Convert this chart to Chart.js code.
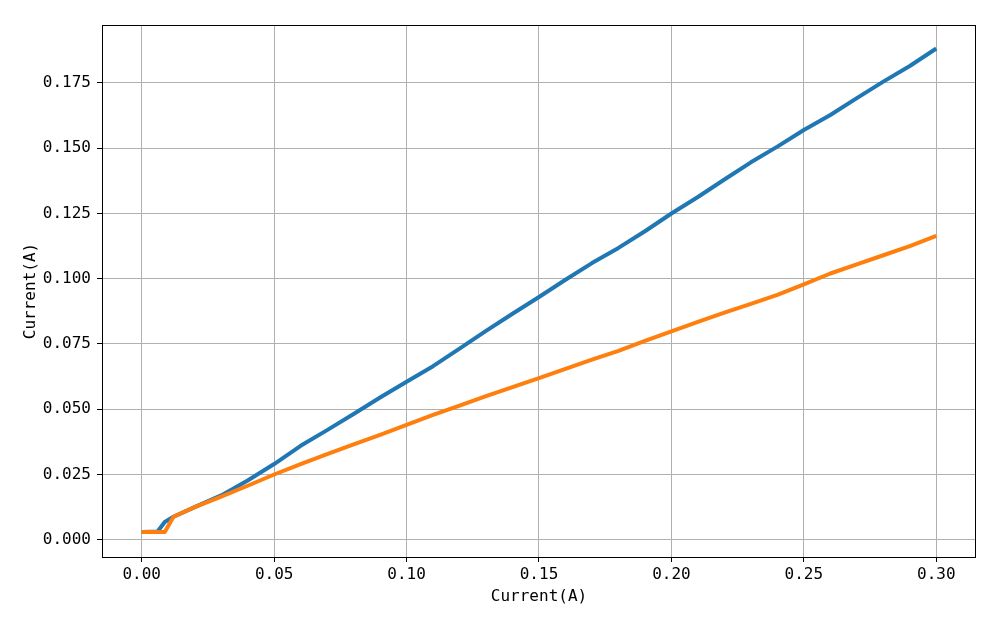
<!DOCTYPE html>
<html>
<head>
<meta charset="utf-8">
<script src="https://cdn.jsdelivr.net/npm/chart.js@4/dist/chart.umd.min.js"></script>
<style>
html,body{margin:0;padding:0;background:#fff;}
#wrap{width:1000px;height:625px;}
</style>
</head>
<body>
<div id="wrap"><canvas id="c" width="1000" height="625"></canvas></div>
<script>
const xValues = [0, 0.006, 0.0087, 0.012, 0.02, 0.03, 0.04, 0.05, 0.06, 0.07, 0.08, 0.09, 0.10,
  0.11, 0.12, 0.13, 0.14, 0.15, 0.16, 0.17, 0.18, 0.19, 0.20, 0.21, 0.22, 0.23, 0.24, 0.25,
  0.26, 0.27, 0.28, 0.29, 0.30];
const blueValues = [0.0030, 0.0032, 0.0068, 0.0088, 0.0125, 0.0170, 0.0227, 0.0290, 0.0360, 0.0420,
  0.0482, 0.0545, 0.0605, 0.0665, 0.0732, 0.0800, 0.0866, 0.0930, 0.0996, 0.1060, 0.1118, 0.1182,
  0.1250, 0.1313, 0.1380, 0.1446, 0.1506, 0.1570, 0.1627, 0.1692, 0.1755, 0.1815, 0.1882];
const orangeValues = [0.0030, 0.0030, 0.0030, 0.0088, 0.0125, 0.0165, 0.0207, 0.0250, 0.0290, 0.0328,
  0.0365, 0.0402, 0.0440, 0.0478, 0.0514, 0.0550, 0.0585, 0.0619, 0.0655, 0.0690, 0.0724, 0.0762,
  0.0798, 0.0835, 0.0870, 0.0904, 0.0938, 0.0978, 0.1020, 0.1055, 0.1090, 0.1125, 0.1164];
const xTicks = [0, 0.05, 0.10, 0.15, 0.20, 0.25, 0.30];
const xTickLabels = ['0.00', '0.05', '0.10', '0.15', '0.20', '0.25', '0.30'];
const yTicks = [0, 0.025, 0.05, 0.075, 0.10, 0.125, 0.15, 0.175];
const yTickLabels = ['0.000', '0.025', '0.050', '0.075', '0.100', '0.125', '0.150', '0.175'];
const xTitle = 'Current(A)';
const yTitle = 'Current(A)';

const FONT = "'DejaVu Sans Mono', monospace";

const bgPlugin = {
  id: 'bg',
  beforeDraw(chart) {
    const ctx = chart.ctx;
    ctx.save();
    ctx.fillStyle = '#fff';
    ctx.fillRect(0, 0, chart.width, chart.height);
    ctx.restore();
  },
  afterDraw(chart) {
    const a = chart.chartArea, ctx = chart.ctx;
    ctx.save();
    ctx.strokeStyle = '#000';
    ctx.lineWidth = 1;
    ctx.strokeRect(Math.round(a.left) + 0.5, Math.round(a.top) + 0.5,
      Math.round(a.right - a.left) - 1, Math.round(a.bottom - a.top));
    ctx.restore();
  }
};

const toPts = (ys) => xValues.map((x, i) => ({x: x, y: ys[i]}));

new Chart(document.getElementById('c'), {
  type: 'line',
  data: {
    datasets: [
      {data: toPts(blueValues), borderColor: '#1f77b4', borderWidth: 4, pointRadius: 0, tension: 0, fill: false, order: 2, borderCapStyle: 'butt', borderJoinStyle: 'round'},
      {data: toPts(orangeValues), borderColor: '#ff7f0e', borderWidth: 4, pointRadius: 0, tension: 0, fill: false, order: 1, borderCapStyle: 'butt', borderJoinStyle: 'round'}
    ]
  },
  options: {
    responsive: false,
    animation: false,
    events: [],
    layout: {padding: {left: 0, right: 24, top: 25, bottom: 0}},
    plugins: {legend: {display: false}, tooltip: {enabled: false}},
    scales: {
      x: {
        type: 'linear',
        min: -0.015, max: 0.315,
        afterFit(s) { s.height = 68; },
        afterBuildTicks(s) { s.ticks = xTicks.map(v => ({value: v})); },
        grid: {color: '#b0b0b0', lineWidth: 1, tickColor: '#000', tickLength: 5, drawTicks: true},
        border: {display: false},
        ticks: {
          font: {family: FONT, size: 16}, color: '#000', padding: 3, maxRotation: 0,
          callback: (v) => { const i = xTicks.findIndex(t => Math.abs(t - v) < 1e-9); return i >= 0 ? xTickLabels[i] : ''; }
        },
        title: {display: true, text: xTitle, font: {family: FONT, size: 16}, color: '#000', padding: {top: 0, bottom: 19}}
      },
      y: {
        type: 'linear',
        min: -0.0066, max: 0.1972,
        afterFit(s) { s.width = 102; },
        afterBuildTicks(s) { s.ticks = yTicks.map(v => ({value: v})); },
        grid: {color: '#b0b0b0', lineWidth: 1, tickColor: '#000', tickLength: 5, drawTicks: true},
        border: {display: false},
        ticks: {
          font: {family: FONT, size: 16}, color: '#000', padding: 6,
          callback: (v) => { const i = yTicks.findIndex(t => Math.abs(t - v) < 1e-9); return i >= 0 ? yTickLabels[i] : ''; }
        },
        title: {display: true, text: yTitle, font: {family: FONT, size: 16}, color: '#000', padding: {top: 21, bottom: 0}}
      }
    }
  },
  plugins: [bgPlugin]
});
</script>
</body>
</html>
